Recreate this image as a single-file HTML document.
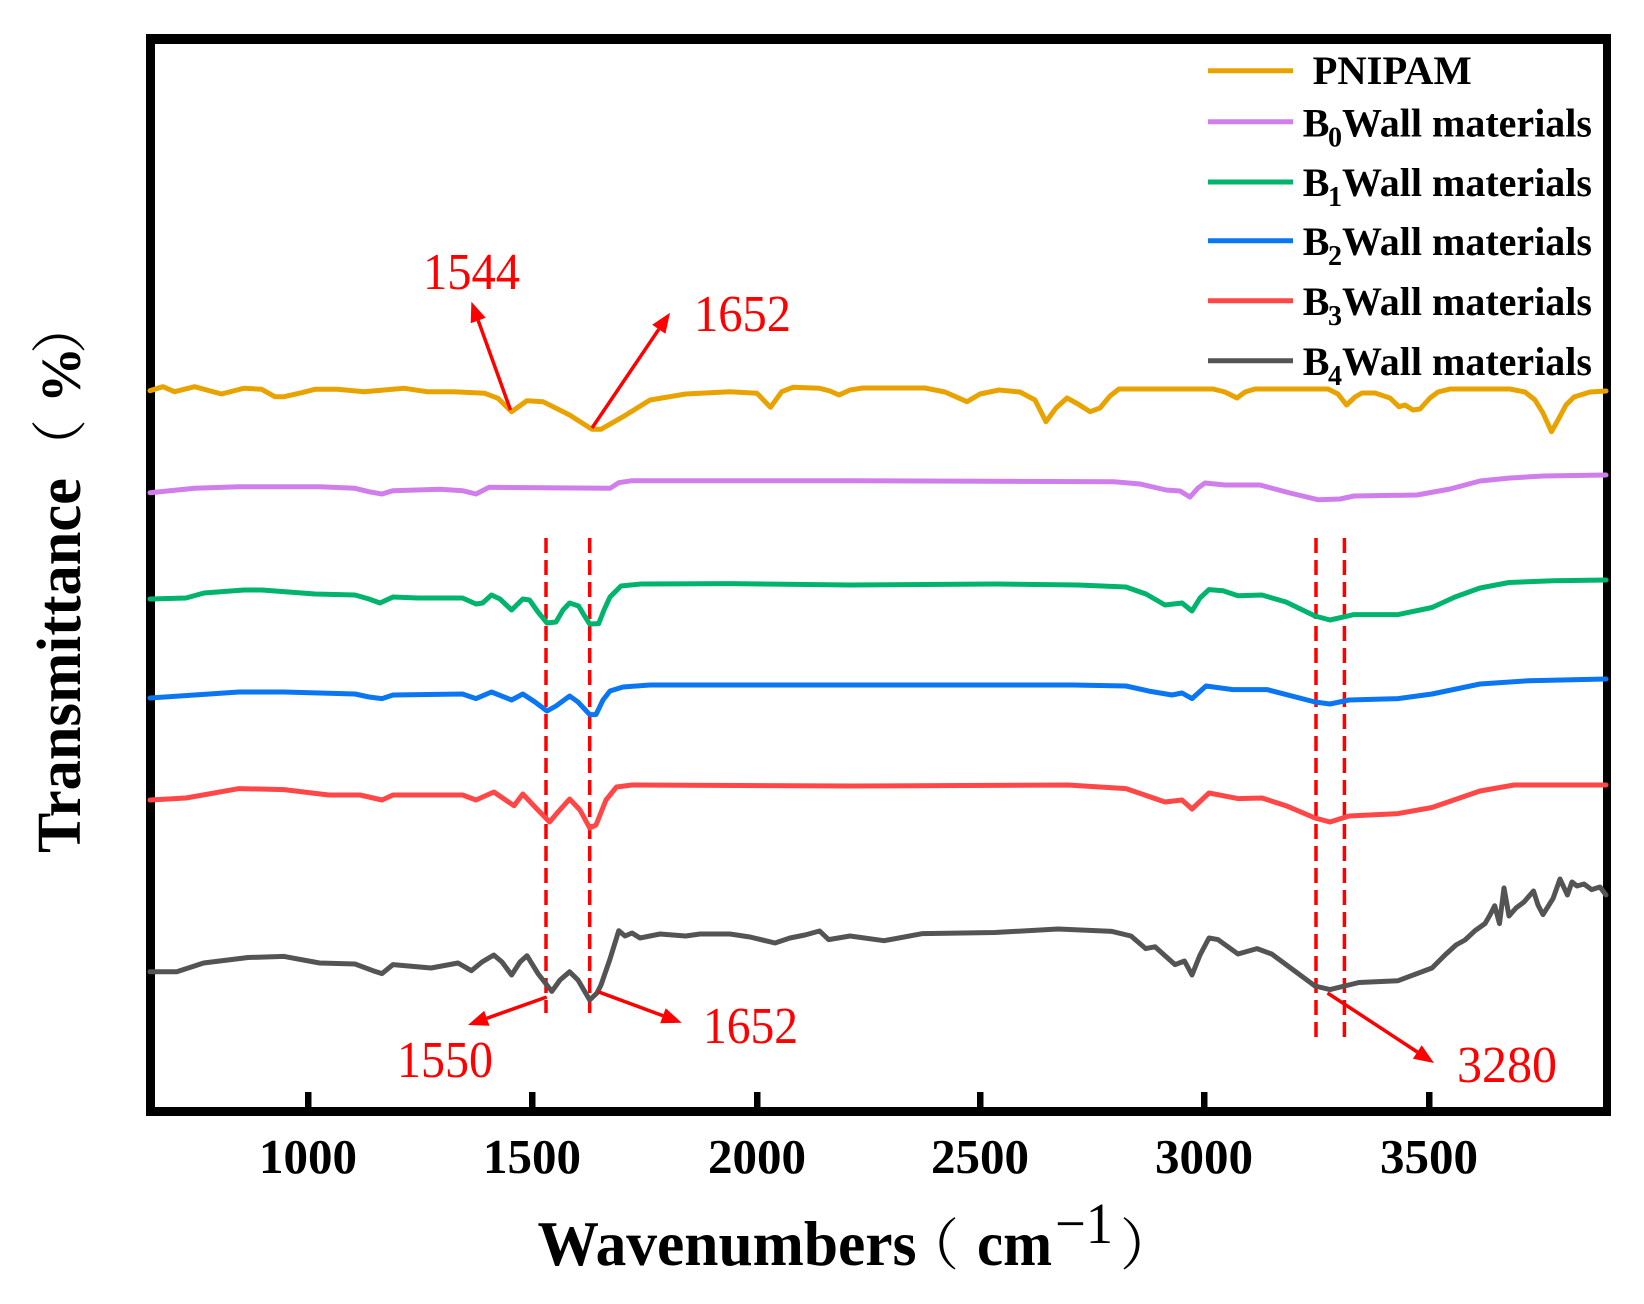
<!DOCTYPE html>
<html>
<head>
<meta charset="utf-8">
<style>
  html,body{margin:0;padding:0;background:#fff;}
  svg{display:block;}
  .serif{font-family:"Liberation Serif","Noto Serif CJK SC",serif;}
  .cjk{font-family:"Noto Serif CJK SC","Noto Sans CJK SC",serif;}
</style>
</head>
<body>
<svg width="1644" height="1304" viewBox="0 0 1644 1304" xmlns="http://www.w3.org/2000/svg">
<rect x="0" y="0" width="1644" height="1304" fill="#fff"/>

<!-- frame -->
<rect x="146" y="34" width="9" height="1082" fill="#000"/>
<rect x="146" y="34" width="1465" height="10" fill="#000"/>
<rect x="1603" y="34" width="8" height="1082" fill="#000"/>
<rect x="146" y="1107" width="1465" height="9" fill="#000"/>

<!-- x ticks -->
<g fill="#000">
<rect x="305" y="1092" width="6.5" height="16"/>
<rect x="529" y="1092" width="6.5" height="16"/>
<rect x="754" y="1092" width="6.5" height="16"/>
<rect x="977" y="1092" width="6.5" height="16"/>
<rect x="1201" y="1092" width="6.5" height="16"/>
<rect x="1426" y="1092" width="6.5" height="16"/>
</g>

<!-- tick labels -->
<g class="serif" font-weight="bold" font-size="49" text-anchor="middle" fill="#000">
<text x="308" y="1173">1000</text>
<text x="532" y="1173">1500</text>
<text x="757" y="1173">2000</text>
<text x="980" y="1173">2500</text>
<text x="1204" y="1173">3000</text>
<text x="1429" y="1173">3500</text>
</g>

<!-- x title -->
<text class="serif" x="537.5" y="1265" font-size="64" font-weight="bold" textLength="379" lengthAdjust="spacingAndGlyphs">Wavenumbers</text>
<text class="cjk" x="903" y="1265" font-size="56">（</text>
<text class="serif" x="977" y="1265" font-size="64" font-weight="bold" textLength="75" lengthAdjust="spacingAndGlyphs">cm</text>
<text class="serif" x="1055" y="1243" font-size="58" textLength="58" lengthAdjust="spacingAndGlyphs">−1</text>
<text class="cjk" x="1120" y="1265" font-size="56">）</text>

<!-- y title -->
<g transform="translate(80,853) rotate(-90)">
<text class="serif" x="0" y="0" font-size="62" font-weight="bold" textLength="375" lengthAdjust="spacingAndGlyphs">Transmittance</text>
<text class="cjk" x="378" y="0" font-size="56">（</text>
<text class="serif" x="450" y="0" font-size="56" font-weight="bold">%</text>
<text class="cjk" x="499" y="0" font-size="56">）</text>
</g>

<!-- dashed reference lines -->
<g stroke="#FF0000" stroke-width="3.5" stroke-dasharray="15 7" fill="none">
<line x1="546" y1="538" x2="546" y2="1013"/>
<line x1="589.7" y1="538" x2="589.7" y2="1013"/>
<line x1="1316" y1="538" x2="1316" y2="1040"/>
<line x1="1344.4" y1="538" x2="1344.4" y2="1040"/>
</g>

<!-- series -->
<g fill="none" stroke-width="5" stroke-linejoin="round" stroke-linecap="round">
<polyline stroke="#E9A300" points="150,390.7 163,386.7 174.5,391.7 194.6,386.7 221.4,394 243.75,388.3 261.6,389.3 275,396.7 284,396.7 301.8,392.7 315,389.3 337.5,389.3 364,391.7 404.5,388.3 426.8,391.7 453.6,391.7 484.8,393.3 498,398.3 511.6,411.7 527,400.7 543,401.7 569.6,415 592,429.3 601,429.3 623,416.7 650,400 685.7,394 730,391.7 757,393.3 770.5,407.3 781.7,391.7 793,387.3 819.6,388.3 830,391 839,395 850,390 863,388 925,388 945,392 967,401.7 980,394 999,390 1020,392 1035,400 1046,421.7 1056,408 1067,398 1078,404 1090,411.7 1100,408 1110,396 1119,389 1213,389 1225,392 1237,398 1245,392 1255,389 1328,389 1338,394 1346.5,405 1355,397 1362,393 1375,393 1390,398 1399,406.7 1405,405 1413,410 1420,409 1430,398 1438,392 1450,389 1510,389 1525,392 1535,400 1543,413 1551.5,431.7 1558,420 1566,405 1574,397 1590,392 1606,391"/>
<polyline stroke="#D07EEB" points="150,492.7 194.6,488.3 239,486.7 319.6,486.7 355,488.3 368.75,491.7 382,494 393,490.7 440,489.3 462.5,490.7 476,494 489,487.3 610,488.3 618.75,482.7 632,480.7 850,480.7 1114,481.7 1140,484 1166,490 1180,491 1190,497 1198,488 1205,483 1225,485 1245,485 1260,485 1290,493 1318,499.7 1340,499 1354,496 1417,495 1450,489 1480,481 1510,478 1543,476 1606,475"/>
<polyline stroke="#00B46E" points="150,599 186,598 204,593 244,590 262,590 315,594 355,595 369,599 380,603 393,597 418,598 462.5,598 476,604 482.6,603 491.5,595 500,599 511.6,610 522.8,599 529.5,600 538,612 547,623 556,622 563,610 569.6,603 578.6,606 584,615 589.7,624 598.7,623.6 604,610 610,597 621,586 641,584 730,583.6 850,585 995,584 1078,585 1126,587 1146,594 1165,605 1182,603 1192,611 1200,598 1209,589.6 1223,590.7 1238,595.7 1262,595 1286,602 1315,616 1330,620 1354,614.6 1398,614.6 1432,607.5 1455,597 1480,588 1509,582.5 1553,580.7 1606,580"/>
<polyline stroke="#0A76F2" points="150,698 194.6,695 239,692 284,692 355,694 369,697 382,698.6 393,695 462.5,694 476,698.6 491.5,692 511.6,700 522.8,694 535,702 547,711 556,706 569.6,696 578,702 589.7,714.6 596,714.6 603,700 610,691 623,687 650,685 850,685 1073,685 1126,686 1150.5,691.4 1172,695 1182,693 1192,698.6 1206,686 1233,689.6 1267,689.6 1315,702 1330,704 1349,700 1398,698.6 1432,694 1480,684 1528.6,680.7 1606,679"/>
<polyline stroke="#FF4747" points="150,800 186,798 239,788.6 284,789.6 328.6,795 360,795 382,800 393,795 462.5,795 476,800 493.8,792 514,805.7 522.8,794 536,808 549.6,822 558,812 569.6,799 580,810 589.7,828 596,825 606,800 616.5,787 632,785 850,786 1068,785 1126,788.6 1165,802 1182,800 1192,809 1209,793 1238,798.6 1262,798 1286,805.7 1315,818 1330,822 1349,816 1398,813.6 1432,807.5 1480,791 1514,785 1606,785"/>
<polyline stroke="#545454" points="150,971.8 176.8,971.8 203.6,963 248,957.5 284,956.4 319.6,963 355,964 373,970.7 382,973.6 393,964.6 431,968 458,963 471.4,970.7 482,962 493.8,955 502,962 511.6,975 520,962 527,955.7 538,973.6 551.8,991.4 560,980 569.6,971.8 578,980 589.7,1000 597,993 601,985 610,959 618.75,930.7 625,936 632,933 640,938 660,934 685.7,936 700,934 730,934 750,937 775,943 790,938 805,935 819.6,931 828.6,939.6 850,936 884,940.7 922.7,933.6 995,932.5 1058,929 1112,931.4 1131,936 1145.7,948.6 1155,946.8 1175,964.6 1184.5,961 1192,975 1200,955 1209,938 1218,939.6 1238,954 1257,948.6 1271.7,954 1315,986 1330,989.6 1359,982.5 1398,980.7 1432,968 1445,955 1456,945 1465,940 1475,930.7 1485,923.6 1490,915 1494.7,905.7 1499.5,923.6 1504,888 1509,916 1516,908 1524,902 1533.5,891 1538,905 1543,914.6 1553,898.6 1560,879 1567.4,895 1572,882 1577,886 1584,884 1591.6,889.6 1600,887 1606,895"/>
</g>

<!-- arrows -->
<g stroke="#FF0000" stroke-width="3.5" fill="none">
<line x1="510.5" y1="410" x2="478.2" y2="320.5"/>
<line x1="592" y1="428" x2="658.8" y2="329.3"/>
<line x1="546.7" y1="997" x2="486.85" y2="1018.3"/>
<line x1="598" y1="991.7" x2="662.95" y2="1015.75"/>
<line x1="1327.5" y1="993" x2="1417.3" y2="1052"/>
</g>
<g fill="#FF0000">
<polygon points="471.4,301.7 485.7,317.8 470.7,323.2"/>
<polygon points="670,312.7 665.4,333.8 652.2,324.8"/>
<polygon points="468,1025 484.2,1010.8 489.5,1025.8"/>
<polygon points="681.7,1022.7 660.2,1023.25 665.7,1008.25"/>
<polygon points="1434,1063 1412.9,1058.7 1421.7,1045.3"/>
</g>

<!-- annotation labels -->
<g class="serif" font-size="52" fill="#FF0000">
<text x="423" y="289" textLength="97" lengthAdjust="spacingAndGlyphs">1544</text>
<text x="694" y="331" textLength="97" lengthAdjust="spacingAndGlyphs">1652</text>
<text x="397" y="1077" textLength="96" lengthAdjust="spacingAndGlyphs">1550</text>
<text x="703" y="1043" textLength="95" lengthAdjust="spacingAndGlyphs">1652</text>
<text x="1457" y="1082" textLength="100" lengthAdjust="spacingAndGlyphs">3280</text>
</g>

<!-- legend -->
<g stroke-width="5">
<line x1="1208" y1="70.7" x2="1293" y2="70.7" stroke="#E9A300"/>
<line x1="1208" y1="121.7" x2="1293" y2="121.7" stroke="#D07EEB"/>
<line x1="1208" y1="182" x2="1293" y2="182" stroke="#00B46E"/>
<line x1="1208" y1="240.7" x2="1293" y2="240.7" stroke="#0A76F2"/>
<line x1="1208" y1="300.7" x2="1293" y2="300.7" stroke="#FF4747"/>
<line x1="1208" y1="360.7" x2="1293" y2="360.7" stroke="#545454"/>
</g>
<g class="serif" font-weight="bold" font-size="40" fill="#000">
<text x="1312.7" y="84" textLength="159" lengthAdjust="spacingAndGlyphs">PNIPAM</text>
<text x="1302.7" y="136.7">B</text><text x="1328" y="146.7" font-size="28">0</text><text x="1342" y="136.7" textLength="250" lengthAdjust="spacingAndGlyphs">Wall materials</text>
<text x="1302.7" y="196">B</text><text x="1328" y="206" font-size="28">1</text><text x="1342" y="196" textLength="250" lengthAdjust="spacingAndGlyphs">Wall materials</text>
<text x="1302.7" y="255">B</text><text x="1328" y="265" font-size="28">2</text><text x="1342" y="255" textLength="250" lengthAdjust="spacingAndGlyphs">Wall materials</text>
<text x="1302.7" y="315">B</text><text x="1328" y="325" font-size="28">3</text><text x="1342" y="315" textLength="250" lengthAdjust="spacingAndGlyphs">Wall materials</text>
<text x="1302.7" y="375">B</text><text x="1328" y="385" font-size="28">4</text><text x="1342" y="375" textLength="250" lengthAdjust="spacingAndGlyphs">Wall materials</text>
</g>
</svg>
</body>
</html>
